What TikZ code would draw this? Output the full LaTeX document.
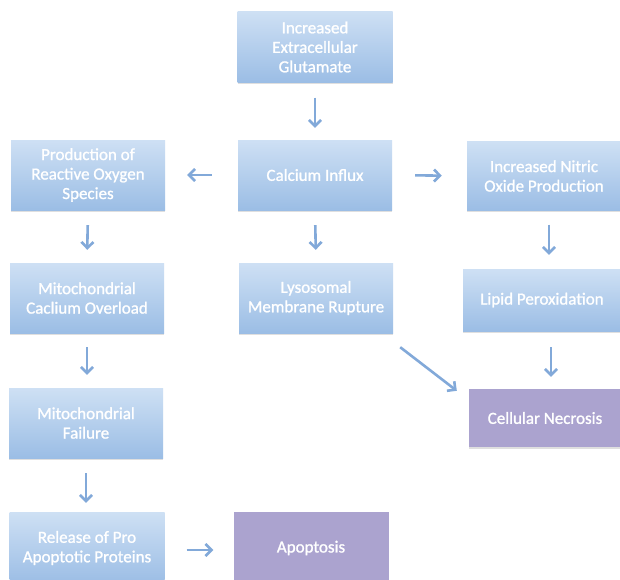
\documentclass[tikz,border=0pt]{standalone}
\usepackage{fontspec}
\setmainfont{Carlito}
\newfontfamily\boxfont[FakeBold=1.2]{Carlito}
\usetikzlibrary{arrows.meta,shadows,calc}
\definecolor{boxtop}{HTML}{CEE0F4}
\definecolor{boxbot}{HTML}{9BBDE5}
\definecolor{purplebox}{HTML}{ABA3CF}
\definecolor{arrowblue}{HTML}{82A9D9}
\tikzset{
  bluebox/.style={rectangle, top color=boxtop, bottom color=boxbot, draw=none,
    text=white, align=center, font=\boxfont\fontsize{17}{19.5}\selectfont,
    drop shadow={shadow xshift=0pt, shadow yshift=-1.5pt, opacity=0.25}},
  purplebox/.style={rectangle, fill=purplebox, draw=none,
    text=white, align=center, font=\boxfont\fontsize{17}{19.5}\selectfont,
    drop shadow={shadow xshift=0pt, shadow yshift=-1.5pt, opacity=0.25}},
  flow/.style={draw=arrowblue, line width=2.6pt, -{Straight Barb[length=6pt,width=12pt]}}
}
\begin{document}
\begin{tikzpicture}[x=1pt,y=-1pt]
\useasboundingbox (0,0) rectangle (620,579);
\fill[white] (0,0) rectangle (620,579);
\node[bluebox, minimum width=155pt, minimum height=71pt] (glu) at (315,47) {Increased\\Extracellular\\Glutamate};
\node[bluebox, minimum width=154pt, minimum height=70pt] (ca) at (315,175) {Calcium Influx};
\node[bluebox, minimum width=154pt, minimum height=70pt] (ros) at (88,175) {Production of\\Reactive Oxygen\\Species};
\node[bluebox, minimum width=154pt, minimum height=69pt] (no) at (544,176) {Increased Nitric\\Oxide Production};
\node[bluebox, minimum width=154pt, minimum height=70pt] (mco) at (87,298) {Mitochondrial\\Caclium Overload};
\node[bluebox, minimum width=154pt, minimum height=70pt] (lys) at (316,298) {Lysosomal\\Membrane Rupture};
\node[bluebox, minimum width=158pt, minimum height=62pt] (lip) at (542,300) {Lipid Peroxidation};
\node[bluebox, minimum width=154pt, minimum height=70pt] (mf) at (86,423) {Mitochondrial\\Failure};
\node[purplebox, minimum width=152pt, minimum height=58pt] (nec) at (545,418) {Cellular Necrosis};
\node[bluebox, minimum width=155pt, minimum height=72pt] (rel) at (87,548) {Release of Pro\\Apoptotic Proteins};
\node[purplebox, minimum width=155pt, minimum height=72pt] (apo) at (311,548) {Apoptosis};

\draw[flow, shorten <=15pt, shorten >=12pt] (glu.south) -- (ca.north);
\draw[flow, shorten <=26pt, shorten >=22pt] (ca.west) -- (ros.east);
\draw[flow, shorten <=23pt, shorten >=25pt] (ca.east) -- (no.west);
\draw[flow, shorten <=15pt, shorten >=13pt] (ros.south) -- (mco.north);
\draw[flow, shorten <=15pt, shorten >=13pt] (ca.south) -- (lys.north);
\draw[flow, shorten <=14pt, shorten >=14pt] ($(no.south)+(5,0)$) -- ($(lip.north)+(7,0)$);
\draw[flow, shorten <=14pt, shorten >=13pt] (mco.south) -- ($(mf.north)+(1,0)$);
\draw[flow, shorten <=16pt, shorten >=12pt] ($(lip.south)+(9,0)$) -- ($(nec.north)+(6,0)$);
\draw[flow, shorten <=15pt, shorten >=9pt] (mf.south) -- ($(rel.north)+(-1,0)$);
\draw[flow, shorten <=22pt, shorten >=20pt] ($(rel.east)+(0,2)$) -- ($(apo.west)+(0,2)$);
\draw[flow] ($(lys.south east)+(7,14)$) -- ($(nec.north west)+(-12,2)$);
\end{tikzpicture}
\end{document}
